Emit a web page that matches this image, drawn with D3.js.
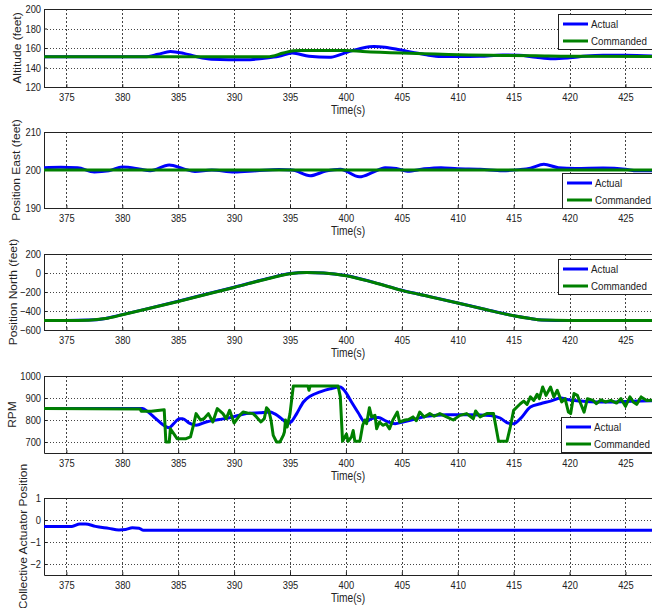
<!DOCTYPE html>
<html>
<head>
<meta charset="utf-8">
<script src="https://cdn.jsdelivr.net/npm/d3@7.9.0/dist/d3.min.js"></script>
<style>
  html, body { margin: 0; padding: 0; background: #fff; }
  svg { display: block; font-family: "Liberation Sans", Arial, sans-serif; }
</style>
</head>
<body>
<svg id="chart" width="652" height="608"></svg>
<script>
// ---- data ----
const xTicks = [375, 380, 385, 390, 395, 400, 405, 410, 415, 420, 425];

const altT = [373, 382, 383.2, 384.3, 385.5, 386.6, 388, 389.5, 391, 392.9, 394, 395.2, 396.7, 398.5, 399.7, 400.5, 401.5, 402.5, 403.5, 404.8, 406, 407.2, 408.5, 410, 412, 414, 415.5, 417, 418.5, 420, 421.5, 423, 425, 428];
const altActual = [151, 151, 153.5, 156.5, 154.5, 151.3, 148.5, 148, 148, 149.7, 151.5, 154.8, 151.5, 150.4, 154, 157, 160, 161.5, 160.8, 158.2, 155.5, 153, 151.3, 151.2, 151.5, 152.8, 152.5, 150.5, 149, 150, 151.8, 152.5, 152.5, 151.5];
const altCmdT = [373, 393, 394.4, 395.3, 396, 398, 400, 401.5, 405, 408, 411, 414, 417, 420, 428];
const altCmd = [151, 151, 154.8, 157.2, 157.5, 157.5, 157.5, 156.5, 154.8, 153.8, 152.8, 152.4, 152, 151.5, 151.3];
const altTicks = [120, 140, 160, 180, 200];

const eastT = [373, 374.5, 376, 377.5, 378.8, 380, 381.5, 382.5, 384.2, 385.5, 386.5, 388, 390, 392, 394, 395.2, 396.8, 398.2, 399.5, 401.2, 402.5, 403.5, 404.5, 405.5, 407, 408.5, 410, 412, 414, 415.5, 416.5, 417.7, 419, 420.5, 423, 425, 426, 428];
const eastActual = [200.6, 200.7, 200.6, 199.5, 199.8, 200.8, 200.3, 199.8, 201.3, 200.3, 199.6, 200, 199.5, 199.8, 200.1, 200, 198.5, 199.7, 200.2, 198.2, 199.5, 200.6, 200.4, 199.7, 200.3, 200.6, 200.3, 200.2, 199.8, 200.1, 200.5, 201.5, 200.6, 200.4, 200.5, 200.2, 199.8, 199.8];
const eastCmdT = [373, 428];
const eastCmd = [200, 200];
const eastTicks = [190, 200, 210];

const northT = [373, 375, 377, 378.5, 380, 382, 385, 388, 390, 393, 395, 396.5, 398, 400, 402.5, 405, 407.5, 410, 412.5, 415, 416.5, 417.5, 420, 428];
const northActual = [-500, -500, -496, -478, -438, -383, -298, -208, -150, -58, -6, 6, 1, -27, -99, -182, -249, -315, -384, -449, -479, -494, -500, -500];
const northCmd = [-500, -500, -497, -480, -440, -385, -300, -210, -152, -60, -7, 5, 0, -28, -100, -183, -250, -316, -385, -450, -480, -495, -500, -500];
const northTicks = [-600, -400, -200, 0, 200];

const rpmActT = [373, 381.8, 382.2, 383, 383.7, 384.2, 384.6, 385.1, 385.4, 386, 386.6, 387.5, 388.7, 389.9, 391.1, 392.3, 393.2, 393.6, 394.4, 394.8, 395.1, 395.6, 396.2, 396.8, 397.7, 398.6, 399.5, 399.9, 400.5, 401.1, 401.7, 402.3, 402.9, 403.6, 404.4, 405.1, 406, 407.2, 409, 411.1, 412.9, 413.8, 414.5, 415, 415.6, 416.5, 417.4, 418.3, 419.2, 419.9, 421, 422.5, 424, 425.5, 428];
const rpmActual = [852, 852, 841, 806, 776, 765, 783, 806, 806, 786, 776, 791, 802, 814, 829, 833, 836, 829, 800, 783, 791, 829, 882, 908, 928, 942, 950, 932, 882, 833, 791, 806, 811, 795, 783, 791, 802, 817, 824, 824, 821, 809, 786, 783, 806, 859, 874, 886, 900, 892, 886, 882, 882, 885, 889];
const rpmCmdT = [373, 381.6, 381.7, 382.6, 383.75, 383.9, 384.2, 384.3, 384.6, 384.9, 385.7, 386.1, 386.4, 386.6, 387.0, 387.3, 387.7, 388.1, 388.5, 389.0, 389.3, 389.6, 390.0, 390.5, 390.8, 391.2, 391.7, 392.0, 392.4, 392.7, 392.9, 393.1, 393.3, 393.5, 393.8, 394.1, 394.4, 394.5, 394.6, 394.75, 395.0, 395.3, 396.6, 396.7, 396.8, 399.3, 399.5, 399.7, 400.05, 400.2, 400.5, 400.65, 400.8, 401.25, 401.5, 401.7, 401.85, 402.1, 402.3, 402.6, 402.75, 403.0, 403.3, 403.6, 403.9, 404.2, 404.6, 404.8, 405.3, 405.6, 406.0, 406.3, 406.6, 407.0, 407.5, 407.9, 408.4, 409.0, 409.6, 410.2, 410.8, 411.4, 411.6, 412.0, 412.6, 413.2, 413.5, 413.65, 414.4, 414.7, 415.0, 415.3, 415.6, 415.9, 416.2, 416.5, 416.8, 417.1, 417.3, 417.6, 417.9, 418.3, 418.6, 418.9, 419.3, 419.6, 419.9, 420.1, 420.4, 420.7, 421.0, 421.3, 421.6, 422.1, 422.4, 422.8, 423.2, 423.7, 424.2, 424.6, 425.0, 425.4, 425.7, 426.0, 426.4, 426.9, 428];
const rpmCmd = [852, 850, 840, 840, 847, 700, 700, 760, 738, 715, 715, 723, 783, 829, 800, 806, 829, 791, 852, 829, 806, 844, 786, 821, 836, 832, 829, 814, 791, 806, 856, 844, 800, 730, 700, 700, 730, 745, 800, 768, 829, 955, 955, 935, 955, 955, 905, 703, 736, 703, 723, 752, 703, 703, 776, 800, 783, 856, 814, 821, 760, 791, 776, 783, 760, 800, 836, 791, 800, 802, 814, 797, 836, 814, 829, 817, 829, 814, 800, 821, 829, 806, 841, 814, 829, 829, 745, 703, 703, 768, 844, 859, 874, 886, 871, 905, 889, 917, 897, 950, 912, 950, 905, 935, 882, 897, 836, 829, 920, 912, 874, 836, 897, 889, 874, 892, 882, 889, 877, 897, 862, 905, 882, 871, 905, 889, 892];
const rpmTicks = [700, 800, 900, 1000];

const collT = [373, 375.5, 376.2, 376.7, 377.6, 378.8, 379.7, 380.3, 380.9, 381.5, 381.9, 428];
const collActual = [-0.29, -0.29, -0.18, -0.18, -0.29, -0.38, -0.45, -0.43, -0.35, -0.37, -0.47, -0.47];
const collTicks = [-2, -1, 0, 1];

// ---- layout ----
const svg = d3.select('#chart');
const left = 44, right = 659;
const squeeze = 0.85;
const blue = '#0000ff', green = '#008000';

const x = d3.scaleLinear().domain([373, 428]).range([left, right]);

const smooth = d3.curveMonotoneX, sharp = d3.curveLinear;

const panels = [
  { top: 9, bottom: 87, domain: [120, 200], ticks: altTicks, label: 'Altitude (feet)', labelX: 17,
    series: [{ t: altT, v: altActual, c: blue, k: smooth }, { t: altCmdT, v: altCmd, c: green, k: smooth }],
    legend: { x: 558, y: 14 } },
  { top: 132, bottom: 208, domain: [190, 210], ticks: eastTicks, label: 'Position East (feet)', labelX: 16,
    series: [{ t: eastT, v: eastActual, c: blue, k: smooth }, { t: eastCmdT, v: eastCmd, c: green, k: sharp }],
    legend: { x: 562, y: 173 } },
  { top: 254, bottom: 330, domain: [-600, 200], ticks: northTicks, label: 'Position North (feet)', labelX: 13,
    series: [{ t: northT, v: northActual, c: blue, k: smooth }, { t: northT, v: northCmd, c: green, k: smooth }],
    legend: { x: 558, y: 259 } },
  { top: 376, bottom: 453, domain: [650, 1000], ticks: rpmTicks, label: 'RPM', labelX: 12,
    series: [{ t: rpmActT, v: rpmActual, c: blue, k: smooth }, { t: rpmCmdT, v: rpmCmd, c: green, k: sharp }],
    legend: { x: 561, y: 417 } },
  { top: 498, bottom: 575, domain: [-2.5, 1], ticks: collTicks, label: 'Collective Actuator Position', labelX: 23,
    series: [{ t: collT, v: collActual, c: blue, k: smooth }],
    legend: null }
];

panels.forEach((p, i) => {
  const y = d3.scaleLinear().domain(p.domain).range([p.bottom, p.top]);
  const g = svg.append('g');

  g.append('clipPath').attr('id', 'clip' + i)
    .append('rect').attr('x', left).attr('y', p.top).attr('width', right - left).attr('height', p.bottom - p.top);

  // grid
  g.append('g').selectAll('line').data(xTicks).join('line')
    .attr('x1', d => Math.round(x(d)) + 0.5).attr('x2', d => Math.round(x(d)) + 0.5)
    .attr('y1', p.top).attr('y2', p.bottom)
    .attr('stroke', '#444').attr('stroke-width', 1).attr('stroke-dasharray', '2,2');
  g.append('g').selectAll('line').data(p.ticks).join('line')
    .attr('x1', left).attr('x2', right)
    .attr('y1', d => Math.round(y(d)) + 0.5).attr('y2', d => Math.round(y(d)) + 0.5)
    .attr('stroke', '#444').attr('stroke-width', 1).attr('stroke-dasharray', '1,2');

  // axes
  const xa = g.append('g').attr('transform', `translate(0,${p.bottom})`)
    .call(d3.axisBottom(x).tickValues(xTicks).tickSize(-3).tickPadding(6).tickFormat(d3.format('d')));
  const ya = g.append('g').attr('transform', `translate(${left},0)`)
    .call(d3.axisLeft(y).tickValues(p.ticks).tickSize(-3).tickPadding(3).tickFormat(d3.format('d')));
  [xa, ya].forEach(a => {
    a.select('.domain').remove();
    a.selectAll('.tick line').attr('stroke', '#222');
    a.selectAll('text').attr('fill', '#222').style('font-size', '11px')
      .style('font-family', '"Liberation Sans", Arial, sans-serif');
  });
  xa.selectAll('text').attr('transform', `scale(${squeeze},1)`);
  ya.selectAll('text').attr('x', -3 / squeeze).attr('transform', `scale(${squeeze},1)`);

  // box
  g.append('path')
    .attr('d', `M${right},${p.top + 0.5}H${left + 0.5}V${p.bottom + 0.5}H${right}`)
    .attr('fill', 'none').attr('stroke', '#222').attr('stroke-width', 1);

  // lines
  p.series.forEach(s => {
    const line = d3.line().curve(s.k).x(d => x(d[0])).y(d => y(d[1]));
    g.append('path')
      .datum(d3.zip(s.t, s.v))
      .attr('d', line)
      .attr('clip-path', `url(#clip${i})`)
      .attr('fill', 'none').attr('stroke', s.c).attr('stroke-width', 3)
      .attr('stroke-linejoin', 'round');
  });

  // labels
  g.append('text')
    .attr('transform', `translate(${(left + 652) / 2},${p.bottom + 27}) scale(${squeeze},1)`)
    .attr('text-anchor', 'middle').style('font-size', '12px').attr('fill', '#222')
    .text('Time(s)');
  g.append('text')
    .attr('transform', `translate(${p.labelX + 4},${(p.top + p.bottom) / 2}) scale(${squeeze},1) rotate(-90)`)
    .attr('text-anchor', 'middle').style('font-size', '12px').attr('fill', '#222')
    .text(p.label);

  // legend
  if (p.legend) {
    const L = g.append('g').attr('transform', `translate(${p.legend.x},${p.legend.y})`);
    L.append('rect').attr('x', 0.5).attr('y', 0.5).attr('width', 94).attr('height', 35)
      .attr('fill', '#fff').attr('stroke', '#222').attr('stroke-width', 1);
    [['Actual', blue, 10], ['Commanded', green, 27]].forEach(([name, c, yy]) => {
      L.append('line').attr('x1', 5).attr('x2', 30).attr('y1', yy).attr('y2', yy)
        .attr('stroke', c).attr('stroke-width', 3);
      L.append('text').attr('transform', `translate(33,${yy + 4}) scale(${squeeze},1)`)
        .style('font-size', '11.5px').attr('fill', '#222').text(name);
    });
  }
});
</script>
</body>
</html>
